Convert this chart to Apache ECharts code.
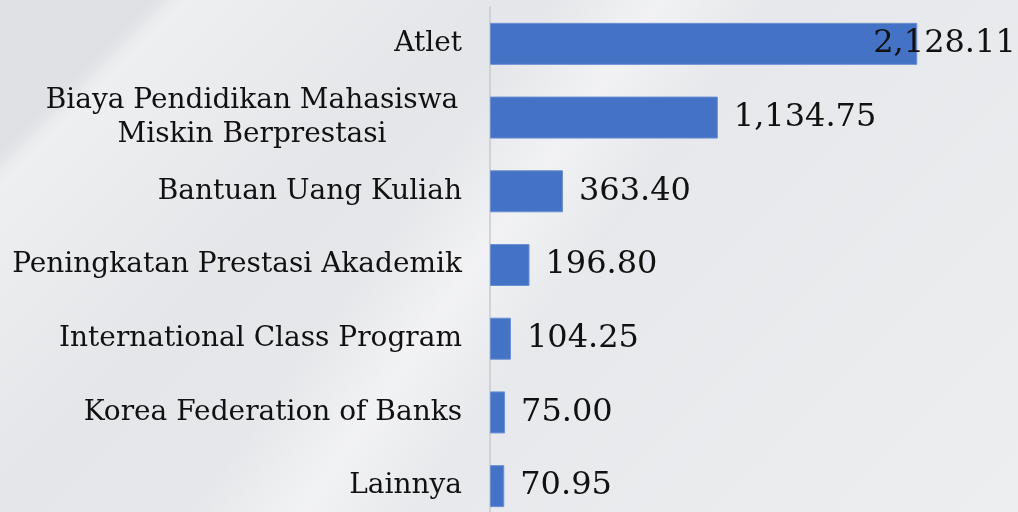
<!DOCTYPE html>
<html>
<head>
<meta charset="utf-8">
<script src="https://cdn.jsdelivr.net/npm/echarts@6/dist/echarts.min.js"></script>
<style>
  html, body { margin: 0; padding: 0; }
  #chart {
    width: 1018px;
    height: 512px;
    background:
      linear-gradient(125deg, rgba(255,255,255,0) 0%, rgba(255,255,255,0) 40%, rgba(255,255,255,0.45) 48%, rgba(255,255,255,0) 56%),
      linear-gradient(135deg, #e0e1e4 0%, #e0e1e4 10%, #eeeff1 12%, #e5e6e9 32%, #e8e9ec 60%, #eceef0 100%);
  }
</style>
</head>
<body>
<div id="chart"></div>
<script>
// kategori beasiswa, dari atas ke bawah
const categories = [
  'Atlet',
  'Biaya Pendidikan Mahasiswa\nMiskin Berprestasi',
  'Bantuan Uang Kuliah',
  'Peningkatan Prestasi Akademik',
  'International Class Program',
  'Korea Federation of Banks',
  'Lainnya'
]
const values = [2128.11, 1134.75, 363.40, 196.80, 104.25, 75.00, 70.95]

const fmt = v => v.toLocaleString('en-US', { minimumFractionDigits: 2, maximumFractionDigits: 2 })

const chart = echarts.init(document.getElementById('chart'))

const option = {
  backgroundColor: 'transparent',
  animation: false,
  grid: {
    left: 490,
    right: 6,
    top: 7,
    height: 516,
    containLabel: false,
    outerBoundsMode: 'none'
  },
  xAxis: {
    type: 'value',
    min: 0,
    max: 2600,
    show: false
  },
  yAxis: {
    type: 'category',
    data: categories,
    inverse: true,
    axisTick: { show: false },
    axisLine: { show: true, lineStyle: { color: '#c9cacc', width: 1.5 } },
    axisLabel: {
      margin: 28,
      color: '#111',
      fontFamily: 'DejaVu Serif',
      fontSize: 28,
      lineHeight: 34,
      formatter: v => {
        // label dua baris ditengahkan seperti aslinya
        if (v.indexOf('\n') < 0) return v
        return v.split('\n').map(s => '{c|' + s + '}').join('\n')
      },
      rich: {
        c: {
          width: 420,
          align: 'center',
          fontFamily: 'DejaVu Serif',
          fontSize: 28,
          lineHeight: 34,
          color: '#111'
        }
      }
    }
  },
  series: [
    {
      type: 'bar',
      barWidth: 42,
      data: values.map((v, i) => {
        const item = { value: v }
        // label Atlet menabrak ujung batang
        if (i === 0) item.label = { offset: [-60, 0] }
        return item
      }),
      itemStyle: { color: '#4472c4', borderColor: '#6b8fd3', borderWidth: 1 },
      label: {
        show: true,
        position: 'right',
        distance: 16,
        color: '#111',
        fontFamily: 'DejaVu Serif',
        fontSize: 32,
        formatter: p => fmt(p.value)
      }
    }
  ]
}

chart.setOption(option)
</script>
</body>
</html>
